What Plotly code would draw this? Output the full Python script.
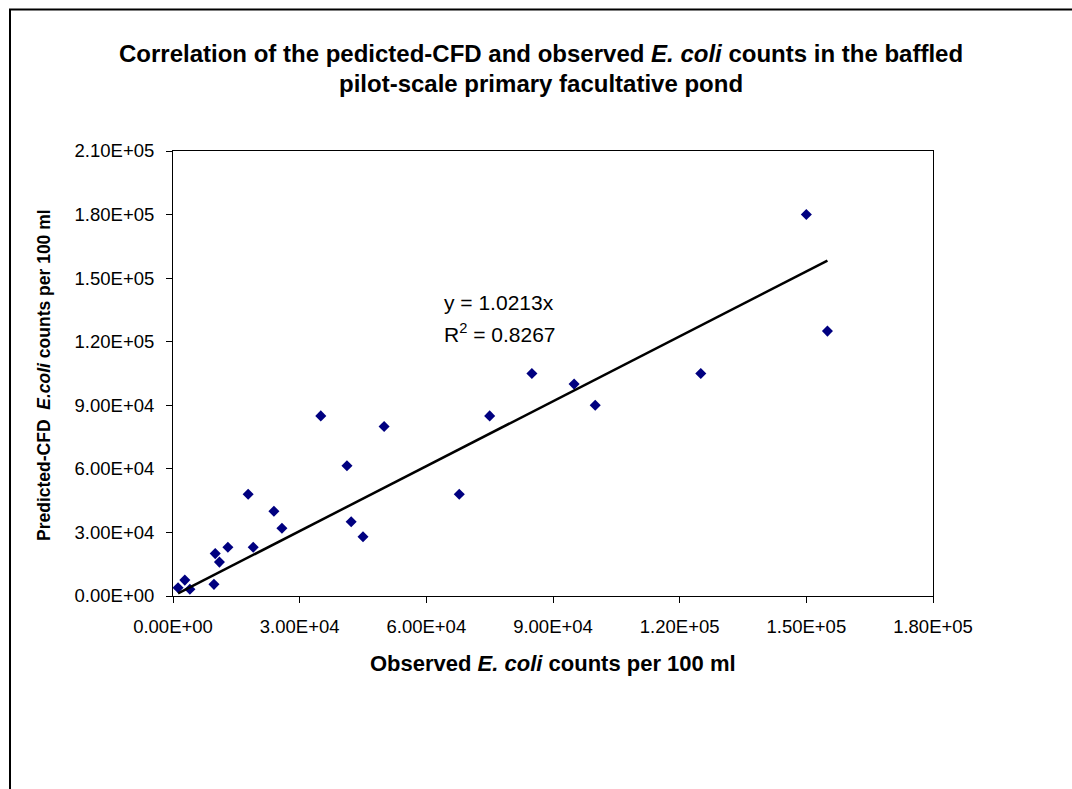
import plotly.graph_objects as go

# ---- data ----
observed = [1.2e3, 2.8e3, 4.0e3, 9.7e3, 1.0e4, 1.1e4, 1.3e4, 1.78e4, 1.9e4, 2.39e4, 2.58e4,
            3.5e4, 4.12e4, 4.22e4, 4.5e4, 5.0e4, 6.78e4, 7.5e4, 8.5e4, 9.5e4, 1.0e5,
            1.25e5, 1.5e5, 1.55e5]
predicted = [3.9e3, 7.5e3, 3.2e3, 5.5e3, 2.0e4, 1.6e4, 2.3e4, 4.8e4, 2.3e4, 4.0e4, 3.2e4,
             8.5e4, 6.15e4, 3.5e4, 2.8e4, 8.0e4, 4.8e4, 8.5e4, 1.05e5, 1.0e5, 9.0e4,
             1.05e5, 1.8e5, 1.25e5]
slope = 1.0213
r_squared = 0.8267

x_tickvals = [0, 3e4, 6e4, 9e4, 1.2e5, 1.5e5, 1.8e5]
x_ticktext = ["0.00E+00", "3.00E+04", "6.00E+04", "9.00E+04", "1.20E+05", "1.50E+05", "1.80E+05"]
y_tickvals = [0, 3e4, 6e4, 9e4, 1.2e5, 1.5e5, 1.8e5, 2.1e5]
y_ticktext = ["0.00E+00", "3.00E+04", "6.00E+04", "9.00E+04", "1.20E+05", "1.50E+05", "1.80E+05", "2.10E+05"]

FONT = "Liberation Sans, Arial, sans-serif"

fig = go.Figure()
fig.add_trace(go.Scatter(
    x=observed, y=predicted, mode="markers",
    marker=dict(symbol="diamond", size=8.5, color="#000080", line=dict(width=0)),
    showlegend=False,
))
xmin, xmax = min(observed), max(observed)
fig.add_trace(go.Scatter(
    x=[xmin, xmax], y=[slope * xmin, slope * xmax], mode="lines",
    line=dict(color="black", width=2.5), showlegend=False,
))

axis_common = dict(
    showgrid=False, zeroline=False, showline=True, linecolor="black", linewidth=1,
    mirror=True, ticks="outside", ticklen=6, tickcolor="black", tickwidth=1,
    tickfont=dict(family=FONT, size=18.5, color="black"),
)
fig.update_xaxes(range=[0, 1.8e5], tickvals=x_tickvals, ticktext=x_ticktext,
                 ticklabelstandoff=8, **axis_common)
fig.update_yaxes(range=[0, 2.1e5], tickvals=y_tickvals, ticktext=y_ticktext,
                 ticklabelstandoff=8, **axis_common)

L, R, T, B = 173, 1072 - 933, 151, 789 - 596
W, H = 1072 - L - R, 789 - T - B


def px(xp):
    return (xp - L) / W


def py(yp):
    return (789 - B - yp) / H


annotations = [
    dict(x=px(541), y=py(54), text="<b>Correlation of the pedicted-CFD and observed <i>E. coli</i> counts in the baffled</b>",
         font=dict(family=FONT, size=24, color="black"), xanchor="center", yanchor="middle"),
    dict(x=px(541), y=py(83), text="<b>pilot-scale primary facultative pond</b>",
         font=dict(family=FONT, size=24, color="black"), xanchor="center", yanchor="middle"),
    dict(x=px(553), y=py(663), text="<b>Observed <i>E. coli</i> counts per 100 ml</b>",
         font=dict(family=FONT, size=22, color="black"), xanchor="center", yanchor="middle"),
    dict(x=px(44), y=py(375), text="<b>Predicted-CFD  <i>E.coli</i> counts per 100 ml</b>", textangle=-90,
         font=dict(family=FONT, size=17.5, color="black"), xanchor="center", yanchor="middle"),
    dict(x=px(442), y=py(302), text=f"y = {slope}x",
         font=dict(family=FONT, size=21, color="black"), xanchor="left", yanchor="middle"),
    dict(x=px(442), y=py(333), text=f"R<sup>2</sup> = {r_squared}",
         font=dict(family=FONT, size=21, color="black"), xanchor="left", yanchor="middle"),
]
for a in annotations:
    a.update(xref="paper", yref="paper", showarrow=False)

fig.update_layout(
    width=1072, height=789, autosize=False,
    margin=dict(l=L, r=R, t=T, b=B, pad=0),
    paper_bgcolor="white", plot_bgcolor="white",
    annotations=annotations,
    shapes=[dict(type="rect", xref="paper", yref="paper",
                 x0=px(10), x1=px(1100), y0=py(820), y1=py(9.5),
                 line=dict(color="black", width=2), fillcolor="rgba(0,0,0,0)", layer="below")],
)

fig.write_html("out.html")
